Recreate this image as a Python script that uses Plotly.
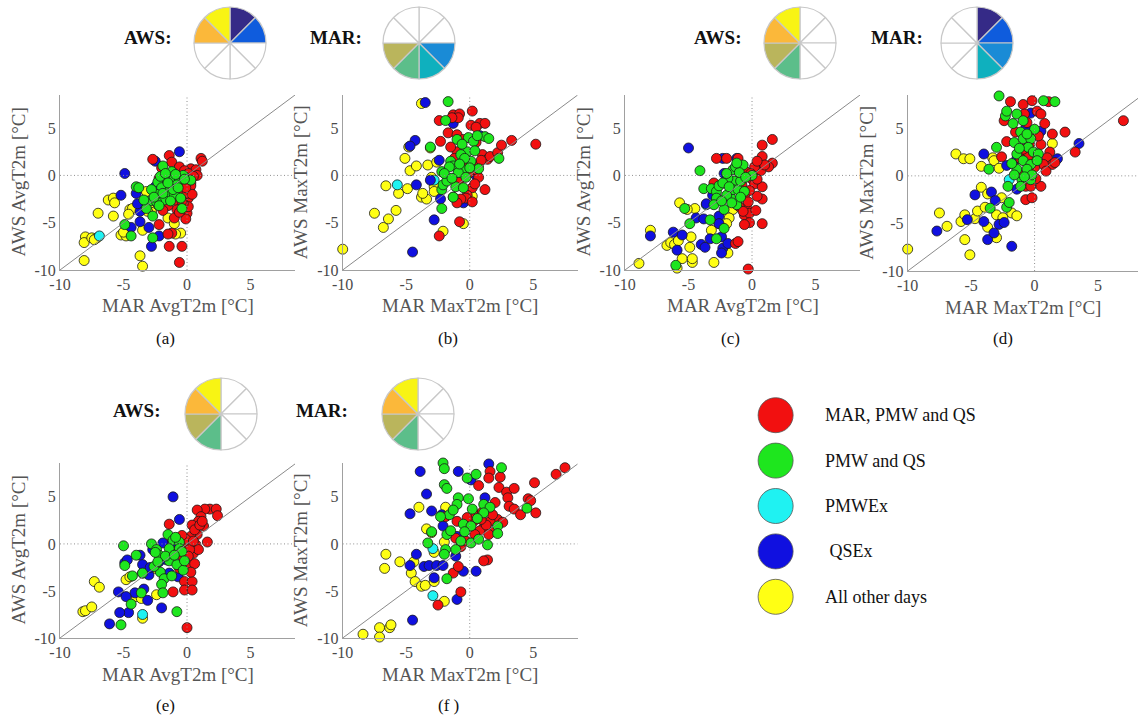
import plotly.graph_objects as go

W, H = 1139, 719
FONT = "Liberation Serif"

CATEGORIES = ["MAR, PMW and QS", "PMW and QS", "PMWEx", " QSEx", "All other days"]
CAT_COLORS = ["#f21010", "#1ee61e", "#1ff2f2", "#1010e0", "#ffff14"]
SECTOR_COLORS = ["#352a87", "#0f5cdd", "#1a8bd6", "#0fb0be", "#5cbe8a", "#bab55c", "#fbb83a", "#f8f414"]
PANEL_LABELS = ["(a)", "(b)", "(c)", "(d)", "(e)", "(f )"]
TICKS = [-10, -5, 0, 5]
TICK_TEXT = ["-10", "-5", "0", "5"]

# ---------- panel (a): MAR AvgT2m vs AWS AvgT2m ----------
A_RED = [(-2.7,1.7),(-1.4,2.1),(-1.2,1.4),(1.1,1.8),(1.2,1.5),(0.3,0.7),(0.7,0.6),(0.8,0.0),(-0.6,0.9),(-0.2,0.5),
         (0.1,0.2),(-2.2,-0.3),(-1.8,-1.2),(-0.6,-2.2),(0.1,-2.4),(0.2,-1.5),(0.0,-4.0),(0.1,-3.3),(-0.8,-3.6),(-1.0,-4.5),
         (-2.2,-5.2),(-1.2,-6.1),(-0.4,-7.5),(-1.4,-7.5),(-0.6,-9.2),(-2.4,-2.6),(-1.8,-2.9),(-1.0,-0.6),(-0.5,-1.0),(0.3,-0.8),
         (0.2,-0.3),(-1.3,-1.8),(-0.9,-2.6),(-0.3,-3.0),(0.3,-1.1),(-1.5,-3.2),(-0.7,-1.6),(0.0,-1.9),(-1.1,0.3),(-0.3,-0.2),
         (-2.0,0.8),(0.5,-0.1),(-0.1,-4.6),(-1.5,-6.2),(-0.4,-2.7),(0.0,-0.7),(-1.2,-1.1),(-0.6,-3.9),(-1.7,-2.2),(0.4,-2.0),
         (-0.1,-1.3),(-1.9,-3.7)]
A_GREEN = [(-1.9,1.0),(-1.2,0.4),(-1.6,-0.3),(-2.3,-0.7),(-1.0,-0.2),(-0.6,-0.5),(-0.3,0.0),(0.3,-0.5),(-2.0,-1.3),(-1.3,-1.2),
           (-0.8,-1.0),(-1.5,-1.8),(-2.4,-2.0),(-1.0,-2.0),(-0.5,-2.4),(-1.8,-2.6),(-2.9,-2.7),(-2.4,-2.8),(-1.3,-2.7),(-4.0,-1.2),
           (-3.8,-1.3),(-4.9,-5.2),(-4.4,-6.4),(-2.7,-6.6),(-2.7,-4.3),(-2.2,-3.2),(-0.4,-3.5),(-2.1,-0.1),(-0.9,0.1),(-2.8,-1.5),
           (-1.7,0.2),(-3.2,-3.5),(-1.1,-1.5),(-0.2,-0.4),(-1.5,-0.8),(-2.6,-2.3),(-1.9,-1.9),(-0.7,-1.3),(-3.4,-2.6)]
A_CYAN = [(-6.9,-6.4),(-3.5,-3.1)]
A_BLUE = [(-0.6,2.5),(-4.9,0.2),(-5.2,-2.1),(-4.0,-1.9),(-2.5,1.5),(-3.7,-3.8),(-3.7,-4.9),(-4.4,-5.5),(-3.0,-5.5),(-2.2,-6.4),
          (-2.8,-7.5),(-2.5,-1.2),(-1.6,-2.0),(-3.9,-3.0),(-2.3,-3.0)]
A_YELLOW = [(-8.1,-9.0),(-8.0,-6.5),(-8.1,-7.1),(-7.5,-6.6),(-7.1,-6.6),(-7.0,-4.0),(-6.2,-2.6),(-5.8,-2.4),(-5.7,-2.9),(-5.8,-4.3),
            (-5.2,-6.3),(-4.8,-6.4),(-4.5,-3.6),(-4.3,-3.5),(-3.2,-1.7),(-3.5,-2.9),(-2.8,-3.6),(-3.7,-8.5),(-3.5,-9.6),(-3.5,-5.8),
            (-1.5,-4.5),(-1.0,-5.1),(-0.5,-6.1),(-0.9,-6.2),(-4.6,-4.1),(-7.3,-6.8),(-2.8,-3.9),(-3.1,-3.8),(-5.0,-6.0)]

# ---------- panel (b): MAR MaxT2m vs AWS MaxT2m ----------
B_RED = [(0.2,6.8),(-1.3,6.4),(-0.8,6.5),(-0.9,6.1),(-1.4,6.1),(-2.4,5.8),(-1.7,4.5),(-1.0,4.3),(0.1,5.3),(0.8,5.5),
         (1.2,5.5),(0.5,5.1),(-2.3,3.6),(-1.0,2.5),(-0.5,2.0),(1.0,2.2),(1.4,1.7),(1.6,2.0),(2.2,2.4),(2.5,3.2),
         (3.3,3.7),(5.2,3.3),(1.2,-1.5),(0.7,-0.2),(0.2,-1.3),(-0.2,-2.1),(-0.3,-2.4),(-0.7,-2.5),(0.2,-2.8),(-1.0,-2.9),
         (-0.8,-4.9),(-2.4,-6.4),(0.7,1.1),(0.3,0.6),(-0.3,1.3),(-1.5,3.0),(0.5,3.5),(-0.5,3.8),(0.9,1.6),(-0.1,0.2),
         (-0.9,-0.7),(0.4,-0.9),(-1.2,1.8)]
B_GREEN = [(-1.7,7.8),(-1.9,5.8),(-3.1,3.0),(-2.2,-1.5),(-2.1,-1.0),(-1.8,-0.6),(-1.1,-1.2),(-2.2,0.4),(-1.5,1.5),(-1.0,3.8),
           (-0.1,4.0),(0.3,3.6),(1.2,4.1),(1.5,3.9),(2.3,1.8),(-0.2,2.5),(-0.7,2.2),(-1.3,1.0),(-0.5,0.6),(0.1,1.5),
           (-0.9,0.3),(-0.3,-0.2),(-2.2,-3.5),(-1.3,-2.3),(-0.5,-1.3),(0.7,0.7),(-0.6,3.3),(0.4,2.6),(-1.6,0.9),(0.6,4.2),
           (-0.4,1.8),(-2.0,0.2),(-1.4,-0.3),(-0.8,1.2),(0.0,0.8)]
B_CYAN = [(-5.7,-1.0),(-2.8,-0.5)]
B_BLUE = [(-3.5,7.7),(-4.3,3.7),(-4.7,3.1),(-4.2,-1.0),(-3.1,-0.5),(-2.8,-4.7),(-4.5,-8.1),(-2.3,-2.5),(-2.4,1.6),(-1.3,5.5),
          (0.8,4.2),(-0.5,-2.9),(-1.2,-0.3),(0.5,0.0)]
B_YELLOW = [(-10.0,-7.8),(-7.5,-4.0),(-6.8,-5.5),(-6.4,-4.6),(-5.8,-3.7),(-6.6,-1.1),(-5.6,-1.9),(-4.9,-1.4),(-5.1,1.8),(-4.7,0.5),
            (-4.2,1.0),(-4.8,3.0),(-3.8,7.6),(-3.8,-2.3),(-3.4,-2.5),(-3.7,-1.9),(-3.3,1.1),(-3.1,2.9),(-2.8,-1.2),(-2.8,-1.7),
            (-3.0,-0.2),(-2.6,1.4),(-2.1,-5.9),(-1.3,-2.3),(-0.5,-5.1),(0.2,-2.2)]

# ---------- panel (c): MAR AvgT2m vs AWS AvgT2m ----------
C_RED = [(0.8,3.2),(1.6,3.8),(1.6,1.3),(1.3,0.9),(0.8,2.0),(0.4,0.6),(0.7,0.5),(0.0,-0.4),(0.2,-0.9),(0.8,-1.2),
         (0.8,-2.5),(0.4,-2.2),(-0.2,-1.6),(-0.6,-2.2),(-0.4,-3.4),(-1.0,-3.3),(-0.6,-4.2),(-0.2,-4.0),(-0.2,-5.0),(-0.6,-5.2),
         (0.8,-5.1),(-0.3,-9.9),(-1.3,-7.2),(-1.1,-7.0),(-2.8,1.8),(-2.0,1.8),(-1.1,1.8),(-3.0,-0.8),(-0.5,0.4),(0.2,0.9),
         (-0.8,-1.0),(0.4,-0.4),(-0.3,-2.8),(1.0,1.1),(0.4,1.5),(-0.9,-0.3),(-0.1,0.2),(0.3,-3.7),(-0.7,-3.8)]
C_GREEN = [(-6.0,-9.5),(-5.3,-3.5),(-4.9,-5.1),(-4.1,0.5),(-3.8,-1.4),(-3.2,-1.4),(-2.8,-1.7),(-3.3,-4.7),(-2.8,-6.7),(-2.2,-5.6),
           (-2.2,-3.6),(-1.7,-2.3),(-1.5,0.6),(-1.3,0.9),(-0.7,1.1),(0.0,0.0),(-1.4,-0.6),(-1.9,-0.3),(-1.5,-1.5),(-1.1,-1.5),
           (-2.0,-2.1),(-2.6,-1.1),(-2.8,-2.4),(-0.9,-0.6),(-1.2,-3.1),(-1.0,0.3),(-0.5,-0.2),(-2.3,-0.8),(-1.8,-1.2),(-0.6,-1.7),
           (-3.0,-3.1),(-2.4,-2.7),(-1.2,1.3),(-1.6,-2.9),(-2.0,0.2),(-0.9,-2.3)]
C_CYAN = [(-3.6,-3.1)]
C_BLUE = [(-5.0,2.9),(-8.0,-6.4),(-6.2,-6.0),(-5.9,-7.9),(-5.5,-6.3),(-4.4,-4.5),(-3.8,-4.6),(-4.0,-7.3),(-3.7,-7.6),(-3.6,-3.0),
          (-2.6,-4.3),(-2.6,-5.1),(-2.4,-6.5),(-2.3,-7.7),(-2.4,-8.2),(-1.9,-7.2),(-3.3,-6.7),(-2.2,0.2),(-2.3,1.8),(-1.2,1.8),
          (-3.1,-2.1)]
C_YELLOW = [(-8.9,-9.3),(-8.0,-5.8),(-6.7,-7.4),(-6.4,-7.1),(-6.1,-7.3),(-5.8,-6.9),(-5.7,-2.9),(-5.5,-8.8),(-5.9,-9.8),(-4.7,-9.2),
            (-4.9,-7.6),(-4.7,-8.8),(-4.8,-6.5),(-4.5,-3.5),(-5.1,-3.6),(-3.0,-9.2),(-3.2,-5.8),(-2.6,-5.1),(-1.9,-8.2),(-1.5,-3.6),
            (-1.8,-4.5),(-2.0,-5.1)]

# ---------- panel (d): MAR MaxT2m vs AWS MaxT2m ----------
D_RED = [(-1.9,7.8),(-0.9,7.5),(-0.2,7.9),(1.1,7.8),(0.2,6.8),(0.5,6.5),(-0.8,6.5),(-2.4,5.8),(0.8,5.5),(1.4,4.4),
         (2.4,4.6),(3.2,2.5),(7.0,5.8),(1.2,2.5),(1.0,1.9),(1.4,1.2),(0.7,1.2),(0.2,2.3),(0.5,3.3),(-0.5,2.1),
         (-1.1,1.8),(-2.2,3.6),(-2.6,2.0),(-0.7,-1.1),(-0.3,-1.1),(0.5,-1.1),(-0.7,-2.5),(-0.2,-2.3),(-0.9,2.8),(0.3,4.2),
         (0.9,0.5),(-0.4,3.3),(1.6,1.4),(0.0,0.9),(-1.5,4.6),(-0.6,5.6),(0.1,-0.3),(-1.3,0.3)]
D_GREEN = [(-2.8,8.4),(-3.0,3.0),(-2.3,6.3),(-2.2,6.8),(-1.7,5.5),(-1.4,6.5),(-0.9,5.8),(-1.6,3.5),(-1.1,4.6),(-0.9,3.9),
           (-0.3,3.9),(0.0,4.9),(0.7,7.9),(1.6,7.8),(-0.5,3.0),(-0.1,2.5),(0.3,2.3),(-1.4,2.3),(-0.9,1.6),(-0.3,1.2),
           (-1.4,0.7),(-0.6,0.7),(-1.0,-0.4),(-0.3,-0.4),(-0.2,0.1),(-2.1,-1.1),(-2.2,-3.3),(-2.0,-2.8),(-3.6,0.7),(-1.1,-1.1),
           (-1.8,1.3),(-0.6,4.4),(0.2,1.6),(-1.2,2.9),(-3.5,-3.4),(-0.8,-0.1),(-1.6,0.1)]
D_CYAN = [(-2.0,-0.4)]
D_BLUE = [(-7.7,-5.8),(-5.3,-4.6),(-4.7,-2.0),(-4.0,2.3),(-3.4,-1.7),(-3.1,-2.6),(-4.0,-4.8),(-3.7,-6.7),(-3.2,-6.0),(-2.8,-5.1),
          (-2.4,-4.9),(-1.8,-7.4),(-2.2,1.1),(-1.4,1.8),(-0.3,6.6),(0.5,4.7),(1.8,1.8),(3.5,3.4),(-1.4,-1.4),(-0.7,5.0)]
D_YELLOW = [(-10.0,-7.7),(-7.5,-3.9),(-6.9,-5.3),(-6.2,2.3),(-5.6,1.8),(-5.1,1.8),(-5.8,-4.8),(-5.5,-4.1),(-5.5,-6.7),(-5.1,-8.3),
            (-4.7,-4.5),(-4.5,-3.7),(-4.2,-1.2),(-4.2,1.0),(-3.9,-3.3),(-3.7,-1.9),(-3.7,-5.4),(-3.3,1.9),(-3.2,1.6),(-3.0,-6.5),
            (-3.0,-4.1),(-2.8,0.8),(-2.6,-2.3),(-2.5,-4.4),(-1.8,-3.9),(-1.4,-4.2),(1.4,3.4)]

# ---------- panel (e): MAR AvgT2m vs AWS AvgT2m ----------
E_RED = [(1.8,3.7),(2.3,3.7),(2.4,3.0),(1.4,3.7),(0.8,3.6),(1.1,2.9),(0.9,2.4),(0.4,2.0),(1.3,1.9),(1.6,0.2),
         (0.8,1.0),(0.3,0.8),(0.1,0.0),(0.7,-0.1),(0.5,-1.0),(0.9,-0.6),(0.2,-2.1),(0.6,-2.1),(-0.2,-4.0),(0.4,-4.0),
         (-0.2,-4.9),(0.4,-4.9),(0.0,-8.9),(-1.4,2.1),(-1.1,-5.1),(-0.9,-0.8),(0.6,1.5),(1.0,2.0),(0.2,-0.6),(-0.3,-1.6),
         (0.3,-3.0),(-0.6,-2.6),(1.2,2.4),(-0.1,0.5),(0.5,0.3),(-0.4,0.9),(0.1,-1.3)]
E_GREEN = [(-5.0,-0.2),(-4.9,-2.3),(-4.0,-1.2),(-4.3,-3.4),(-3.5,-3.1),(-4.4,-6.4),(-5.2,-8.6),(-3.6,-5.2),(-2.8,0.0),(-2.4,-0.6),
           (-2.2,-1.2),(-2.1,-3.0),(-1.8,-3.7),(-2.0,-4.3),(-1.5,1.0),(-1.1,0.4),(-0.6,0.2),(-0.6,-0.5),(-1.4,-0.5),(-1.4,-1.8),
           (-0.8,-2.2),(-0.3,-2.8),(-0.8,-7.2),(-0.4,-0.8),(-1.9,-5.2),(-2.6,-2.4),(-1.7,-1.3),(-1.0,-1.2),(-2.3,-1.9),(-0.2,-1.8),
           (-1.2,-3.4),(-2.5,-0.9),(-0.9,0.7)]
E_CYAN = [(-3.5,-3.1),(-3.5,-7.5)]
E_BLUE = [(-1.1,5.0),(-0.6,2.6),(-1.2,0.1),(-1.9,0.1),(-3.7,-1.2),(-4.9,-2.0),(-4.7,-1.7),(-3.5,-2.2),(-5.4,-5.1),(-4.6,-7.3),
          (-5.3,-7.3),(-6.1,-8.5),(-4.1,-5.2),(-3.1,-6.0),(-3.4,-4.8),(-3.0,-3.3),(-2.0,-6.8),(-2.2,-1.9),(-1.6,-1.7),(-1.4,-3.1),
          (-2.7,-0.6),(-0.7,-3.5),(-4.8,-5.6),(-2.9,-2.5)]
E_YELLOW = [(-8.2,-7.2),(-8.0,-7.1),(-7.5,-6.7),(-7.3,-4.0),(-6.9,-4.6),(-4.8,-3.8),(-4.0,-5.6),(-3.5,-7.9),(-3.6,-5.8),(-2.5,-2.6),
            (-2.4,-5.4),(-4.5,-3.5)]

# ---------- panel (f): MAR MaxT2m vs AWS MaxT2m ----------
F_RED = [(1.6,7.7),(2.4,7.1),(1.5,7.0),(0.7,6.2),(2.3,6.0),(2.9,5.5),(3.5,5.9),(3.0,4.9),(3.1,4.0),(3.5,3.7),
         (4.0,3.1),(4.6,4.8),(4.8,4.6),(5.1,6.5),(6.8,7.4),(7.5,8.1),(5.2,3.3),(2.2,2.6),(1.6,2.4),(1.1,1.7),
         (0.8,1.4),(0.3,2.4),(-0.2,2.8),(-1.0,2.4),(1.8,3.1),(1.9,1.3),(-1.1,0.6),(-0.7,-0.3),(1.4,-1.7),(1.1,-1.8),
         (-1.3,-3.1),(-0.9,-2.4),(-0.7,-5.1),(-2.5,-6.5),(2.6,2.3),(0.5,3.1),(-1.9,2.9),(1.3,2.0),(0.4,1.0),(2.0,4.4),
         (-0.3,0.3),(1.0,3.4),(1.5,1.0),(0.9,2.6)]
F_GREEN = [(-2.1,8.6),(-2.0,8.0),(-2.0,6.3),(-1.8,5.9),(-0.2,7.0),(0.5,7.4),(2.5,8.1),(-0.1,4.8),(-0.9,4.9),(-1.0,4.2),
           (-1.6,3.1),(-2.3,2.9),(-3.0,1.3),(-3.3,0.1),(-1.8,1.0),(-1.5,1.4),(-0.5,2.1),(0.1,1.9),(0.2,3.7),(1.1,4.2),
           (1.6,3.9),(1.1,3.3),(2.2,1.9),(2.2,1.1),(1.4,-0.1),(4.5,3.8),(0.1,0.1),(-0.7,0.3),(-1.1,-0.6),(-1.9,-0.6),
           (-2.0,-1.1),(-1.8,-3.7),(0.7,0.5),(-1.3,3.6),(0.6,2.7),(-0.4,1.3)]
F_CYAN = [(-2.9,-0.5),(-2.9,-5.5)]
F_BLUE = [(-3.9,7.7),(-0.9,7.7),(1.5,8.5),(-3.4,5.3),(-4.7,3.2),(-3.0,3.5),(-2.1,1.9),(-2.2,3.1),(-4.2,-1.1),(-4.7,-2.3),
          (-3.6,-2.4),(-3.2,-2.3),(-2.8,-3.6),(-2.6,-2.3),(-2.1,-2.3),(-4.5,-8.1),(-1.0,-5.9),(-0.5,-2.9),(0.5,-2.9),(1.2,4.9),
          (0.1,6.8),(-1.0,0.8),(-1.1,-1.3)]
F_YELLOW = [(-8.4,-9.6),(-7.1,-8.9),(-7.1,-9.9),(-6.3,-8.9),(-6.2,-8.6),(-6.6,-1.1),(-6.7,-2.6),(-5.5,-1.9),(-4.4,-1.9),(-4.6,-3.1),
            (-4.3,-4.0),(-3.8,-4.5),(-3.5,-4.4),(-4.0,3.9),(-3.4,1.6),(-3.0,1.2),(-2.8,-0.9),(-2.0,-6.1),(-2.0,0.2),(-2.8,-4.0),
            (-1.9,3.9)]

PANEL_SERIES = [
    [A_RED, A_GREEN, A_CYAN, A_BLUE, A_YELLOW],
    [B_RED, B_GREEN, B_CYAN, B_BLUE, B_YELLOW],
    [C_RED, C_GREEN, C_CYAN, C_BLUE, C_YELLOW],
    [D_RED, D_GREEN, D_CYAN, D_BLUE, D_YELLOW],
    [E_RED, E_GREEN, E_CYAN, E_BLUE, E_YELLOW],
    [F_RED, F_GREEN, F_CYAN, F_BLUE, F_YELLOW],
]
X_TITLES = ["MAR AvgT2m [°C]", "MAR MaxT2m [°C]", "MAR AvgT2m [°C]", "MAR MaxT2m [°C]", "MAR AvgT2m [°C]", "MAR MaxT2m [°C]"]
Y_TITLES = ["AWS AvgT2m [°C]", "AWS MaxT2m [°C]", "AWS AvgT2m [°C]", "AWS MaxT2m [°C]", "AWS AvgT2m [°C]", "AWS MaxT2m [°C]"]

# wind-direction sectors filled (index 0 = N..NE, clockwise)
PIE_NAMES = ["AWS:", "MAR:", "AWS:", "MAR:", "AWS:", "MAR:"]
PIE_FILLED = [[0, 1, 6, 7], [2, 3, 4, 5], [4, 5, 6, 7], [0, 1, 2, 3], [4, 5, 6, 7], [4, 5, 6, 7]]

# ---------- layout geometry (pixels) ----------
PANEL_BOX = [  # (x_left, x_right, y_top, y_bottom, xmax, ymax)
    (60, 295, 95, 270, 8.5, 8.5),
    (342.7, 577.7, 95, 270, 8.5, 8.5),
    (625, 860, 95, 270, 8.5, 8.5),
    (907.7, 1138, 95, 271, 8.15, 8.5),
    (60, 295, 463, 638, 8.5, 8.6),
    (342.7, 577.7, 463, 638, 8.5, 8.6),
]
CAPTION_POS = [(165, 338), (448, 338), (730, 338), (1003, 338), (165, 705), (448, 705)]
PIE_POS = [(230, 43), (419, 43), (800, 43), (977, 43), (221, 414), (418, 414)]
PIE_LABEL_POS = [(148, 38), (336, 38), (718, 38), (897, 38), (137, 410), (322, 410)]
PIE_R = 36


def px(x):
    return x / W


def py(y):
    return 1 - y / H


fig = go.Figure()
annotations = []
shapes = []
TICKFONT = dict(family=FONT, size=16, color="#4a4a4a")

for i, series in enumerate(PANEL_SERIES):
    n = i + 1
    xa = "x" if n == 1 else f"x{n}"
    ya = "y" if n == 1 else f"y{n}"
    xl, xr, yt, yb, xmax, ymax = PANEL_BOX[i]
    axis_common = dict(
        showgrid=False, zeroline=False, showline=True, linecolor="#a0a0a0", linewidth=1,
        tickmode="array", tickvals=TICKS, ticktext=TICK_TEXT, ticks="",
        tickfont=TICKFONT, fixedrange=True, automargin=False,
    )
    fig.update_layout(**{
        ("xaxis" if n == 1 else f"xaxis{n}"): dict(axis_common, domain=[px(xl), px(xr)], range=[-10, xmax], anchor=ya),
        ("yaxis" if n == 1 else f"yaxis{n}"): dict(axis_common, domain=[py(yb), py(yt)], range=[-10, ymax], anchor=xa),
    })
    dmax = min(xmax, ymax)
    shapes.append(dict(type="line", xref=xa, yref=ya, x0=-10, y0=-10, x1=dmax, y1=dmax,
                       line=dict(color="#8a8a8a", width=1)))
    shapes.append(dict(type="line", xref=xa, yref=ya, x0=0, y0=-10, x1=0, y1=ymax,
                       line=dict(color="#909090", width=1, dash="1px,2.5px")))
    shapes.append(dict(type="line", xref=xa, yref=ya, x0=-10, y0=0, x1=xmax, y1=0,
                       line=dict(color="#909090", width=1, dash="1px,2.5px")))
    # draw order: yellow, cyan, blue, red, green
    for k in [4, 2, 3, 0, 1]:
        pts = series[k]
        fig.add_trace(go.Scatter(
            x=[p[0] for p in pts], y=[p[1] for p in pts], mode="markers", xaxis=xa, yaxis=ya,
            marker=dict(size=10, color=CAT_COLORS[k], line=dict(color="#1a1a1a", width=0.8)),
            showlegend=False, hoverinfo="skip", cliponaxis=False))
    # axis titles
    annotations.append(dict(text=X_TITLES[i], xref="paper", yref="paper", x=px((xl + xr) / 2),
                            y=py(yb + 36), showarrow=False, xanchor="center", yanchor="middle",
                            font=dict(family=FONT, size=19, color="#555555")))
    annotations.append(dict(text=Y_TITLES[i], xref="paper", yref="paper", x=px(xl - 42),
                            y=py((yt + yb) / 2), showarrow=False, xanchor="center", yanchor="middle",
                            textangle=-90, font=dict(family=FONT, size=19, color="#555555")))
    cx, cy = CAPTION_POS[i]
    annotations.append(dict(text=PANEL_LABELS[i], xref="paper", yref="paper", x=px(cx), y=py(cy),
                            showarrow=False, xanchor="center", yanchor="middle",
                            font=dict(family=FONT, size=17, color="#111111")))

# wind pies
for j in range(6):
    cx, cy = PIE_POS[j]
    colors = [SECTOR_COLORS[s] if s in PIE_FILLED[j] else "#ffffff" for s in range(8)]
    fig.add_trace(go.Pie(
        values=[1] * 8, sort=False, direction="clockwise", rotation=0,
        marker=dict(colors=colors, line=dict(color="#c8c8c8", width=1.2)),
        textinfo="none", hoverinfo="skip", showlegend=False, automargin=False,
        domain=dict(x=[px(cx - PIE_R), px(cx + PIE_R)], y=[py(cy + PIE_R), py(cy - PIE_R)])))
    lx, ly = PIE_LABEL_POS[j]
    annotations.append(dict(text=f"<b>{PIE_NAMES[j]}</b>", xref="paper", yref="paper", x=px(lx), y=py(ly),
                            showarrow=False, xanchor="center", yanchor="middle",
                            font=dict(family=FONT, size=19, color="#111111")))

# legend (own hidden axes)
fig.update_layout(
    xaxis7=dict(domain=[px(740), px(1000)], range=[0, 10], visible=False, fixedrange=True,
                anchor="y7", automargin=False),
    yaxis7=dict(domain=[py(619.5), py(392.5)], range=[4.5, -0.5], visible=False, fixedrange=True,
                anchor="x7", automargin=False),
)
fig.add_trace(go.Scatter(
    x=[1.37] * 5, y=list(range(5)), mode="markers", xaxis="x7", yaxis="y7",
    marker=dict(size=35, color=CAT_COLORS, line=dict(color="#555555", width=0.8)),
    showlegend=False, hoverinfo="skip"))
for r, label in enumerate(CATEGORIES):
    annotations.append(dict(text=label, xref="x7", yref="y7", x=3.2, y=r, showarrow=False,
                            xanchor="left", yanchor="middle",
                            font=dict(family=FONT, size=18, color="#111111")))

fig.update_layout(
    template="none",
    width=W, height=H, margin=dict(l=0, r=0, t=0, b=0, pad=0, autoexpand=False),
    paper_bgcolor="white", plot_bgcolor="white", font=dict(family=FONT),
    annotations=annotations, shapes=shapes, showlegend=False,
)

fig.write_html(
    "out.html",
    config={"displayModeBar": False, "staticPlot": True},
    post_script="document.body.style.margin='0px';document.body.style.overflow='hidden';",
)
